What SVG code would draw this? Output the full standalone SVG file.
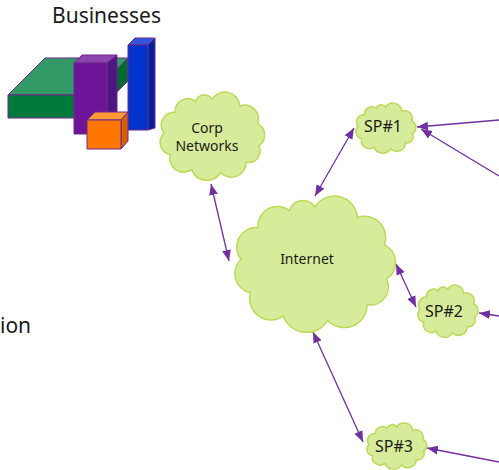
<svg xmlns="http://www.w3.org/2000/svg" width="499" height="470" viewBox="0 0 499 470">
  <style>
    .cloud use { fill: #d7ec9b; stroke: #bcd95a; stroke-width: 1.5; }
    .label { font-family: "Noto Sans", "Open Sans", sans-serif; fill: #1a1a1a; text-anchor: middle; }
    .title { font-family: "Noto Sans", "Open Sans", sans-serif; fill: #1a1a1a; font-size: 21px; }
    .link { stroke: #7030a0; stroke-width: 1.3; fill: none; }
    .blk { stroke: #6a2b8c; stroke-width: 1; stroke-linejoin: round; }
  </style>
  <defs>
    <!-- scalloped cloud outline in a 100x80 box -->
    <path id="cloudShape" vector-effect="non-scaling-stroke" d="M50,8 A13,13 0 0 1 74.1,13.8 A12,12 0 0 1 89.5,29.1 A11,11 0 0 1 90.6,48.3 A10,10 0 0 1 79.7,62.6 A13,13 0 0 1 57.3,71.5 A14,14 0 0 1 32.2,69 A12,12 0 0 1 13.6,56 A11,11 0 0 1 8.2,37.2 A11,11 0 0 1 17.8,19.4 A11,11 0 0 1 35.6,9.9 A8,8 0 0 1 50,8 Z"/>
    <marker id="arrowEnd" markerUnits="userSpaceOnUse" markerWidth="11" markerHeight="11" viewBox="0 0 10 10" refX="10" refY="5" orient="auto">
      <path d="M0,1 L10,5 L0,9 Z" fill="#7030a0"/>
    </marker>
    <marker id="arrowStart" markerUnits="userSpaceOnUse" markerWidth="11" markerHeight="11" viewBox="0 0 10 10" refX="0" refY="5" orient="auto">
      <path d="M10,1 L0,5 L10,9 Z" fill="#7030a0"/>
    </marker>
  </defs>

  <!-- Businesses: stacked 3D blocks -->
  <g id="businesses">
    <text class="title" x="52" y="23">Businesses</text>
    <!-- green slab -->
    <polygon class="blk" points="8,95 45,58 128,58 91,95" fill="#339966"/>
    <polygon class="blk" points="91,95 128,58 128,81 91,118" fill="#006b30"/>
    <rect class="blk" x="8" y="95" width="83" height="23" fill="#007a3a"/>
    <!-- purple tower -->
    <polygon class="blk" points="74,63 82,55 117,55 107,63" fill="#8e44ad"/>
    <polygon class="blk" points="107,63 117,55 117,127 107,134" fill="#4f1580"/>
    <rect class="blk" x="74" y="63" width="33" height="71" fill="#6e1499"/>
    <!-- blue tower -->
    <polygon class="blk" points="128,45 135,38 155,38 148,45" fill="#3355dd"/>
    <polygon class="blk" points="148,45 155,38 155,128 148,130" fill="#002299"/>
    <rect class="blk" x="128" y="45" width="20" height="85" fill="#0033cc"/>
    <!-- orange cube -->
    <polygon class="blk" points="87,120 95,112 128,112 121,120" fill="#ff9933"/>
    <polygon class="blk" points="121,120 128,112 128,141 121,149" fill="#d96000"/>
    <rect class="blk" x="87" y="120" width="34" height="29" fill="#ff7700"/>
  </g>

  <g id="location">
    <text class="title" x="0" y="333">ion</text>
  </g>

  <!-- connectors -->
  <g id="connectors">
    <line class="link" x1="211" y1="184" x2="229" y2="261" marker-start="url(#arrowStart)" marker-end="url(#arrowEnd)"/>
    <line class="link" x1="354" y1="128" x2="315" y2="196" marker-start="url(#arrowStart)" marker-end="url(#arrowEnd)"/>
    <line class="link" x1="396" y1="264" x2="416" y2="307" marker-start="url(#arrowStart)" marker-end="url(#arrowEnd)"/>
    <line class="link" x1="313" y1="332" x2="363" y2="442" marker-start="url(#arrowStart)" marker-end="url(#arrowEnd)"/>
    <line class="link" x1="499" y1="120" x2="417" y2="127" marker-end="url(#arrowEnd)"/>
    <line class="link" x1="499" y1="176" x2="421" y2="129" marker-end="url(#arrowEnd)"/>
    <line class="link" x1="499" y1="316" x2="479" y2="313" marker-end="url(#arrowEnd)"/>
    <line class="link" x1="499" y1="462" x2="427" y2="448" marker-end="url(#arrowEnd)"/>
  </g>

  <g id="corp" class="cloud">
    <use href="#cloudShape" transform="translate(154.7,90) scale(1.149,1.154)"/>
    <text class="label" x="207" y="133" font-size="14">Corp</text>
    <text class="label" x="207" y="151" font-size="14">Networks</text>
  </g>
  <g id="internet" class="cloud">
    <use href="#cloudShape" transform="translate(226.5,193) scale(1.766,1.782)"/>
    <text class="label" x="307" y="264" font-size="14">Internet</text>
  </g>
  <g id="sp1" class="cloud">
    <use href="#cloudShape" transform="translate(352.7,102) scale(0.66,0.654)"/>
    <text class="label" x="383" y="132" font-size="16">SP#1</text>
  </g>
  <g id="sp2" class="cloud">
    <use href="#cloudShape" transform="translate(414.7,284) scale(0.66,0.68)"/>
    <text class="label" x="444" y="317" font-size="16">SP#2</text>
  </g>
  <g id="sp3" class="cloud">
    <use href="#cloudShape" transform="translate(363.7,422) scale(0.66,0.603)"/>
    <text class="label" x="394" y="452" font-size="16">SP#3</text>
  </g>
</svg>
